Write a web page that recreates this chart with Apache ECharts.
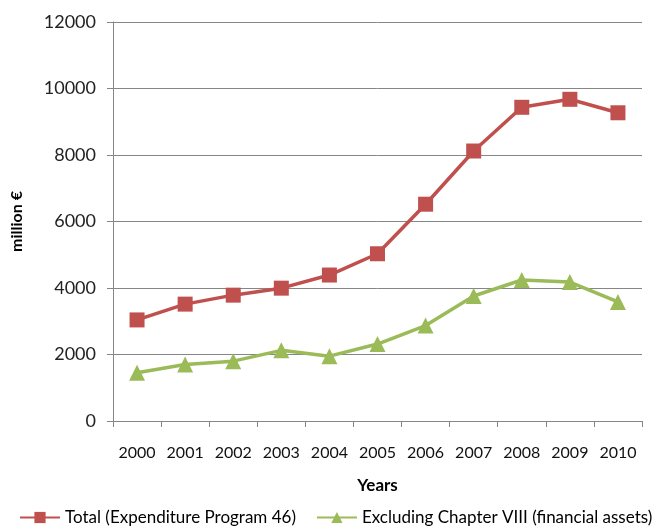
<!DOCTYPE html>
<html><head><meta charset="utf-8">
<script src="https://cdn.jsdelivr.net/npm/echarts@6/dist/echarts.min.js"></script>
<style>html,body{margin:0;padding:0;background:#fff}#c{width:669px;height:531px}</style>
</head><body><div id="c"></div>
<script>
var years = ['2000','2001','2002','2003','2004','2005','2006','2007','2008','2009','2010'];
var totalValues = [3040, 3515, 3785, 3995, 4390, 5030, 6520, 8120, 9435, 9675, 9270];
var exclValues = [1450, 1700, 1800, 2125, 1950, 2315, 2870, 3760, 4240, 4180, 3580];
var seriesNames = ['Total (Expenditure Program 46)', 'Excluding Chapter VIII (financial assets)'];

var font = 'Lato, "Open Sans", sans-serif';
var chart = echarts.init(document.getElementById('c'));
chart.setOption({
  animation: false,
  textStyle: {fontFamily: font},
  grid: {left: 113, right: 27, top: 22, bottom: 110, containLabel: false, outerBoundsMode: 'none'},
  legend: {
    bottom: 0, left: 14, itemWidth: 40, itemHeight: 14, itemGap: 20,
    textStyle: {fontSize: 17, color: '#000', fontFamily: font},
    data: seriesNames
  },
  xAxis: {
    type: 'category', data: years, boundaryGap: true,
    name: 'Years', nameLocation: 'middle', nameGap: 56,
    nameTextStyle: {fontSize: 17, fontWeight: 'bold', color: '#000'},
    axisLine: {lineStyle: {color: '#868686', width: 1}},
    axisTick: {show: true, length: 6, lineStyle: {color: '#868686'}},
    axisLabel: {fontSize: 16, color: '#111', margin: 24, interval: 0, hideOverlap: false}
  },
  yAxis: {
    type: 'value', min: 0, max: 12000, interval: 2000,
    name: 'million €', nameLocation: 'middle', nameGap: 88,
    nameTextStyle: {fontSize: 16, fontWeight: 'bold', color: '#000'},
    axisLine: {show: true, lineStyle: {color: '#868686', width: 1}},
    axisTick: {show: true, length: 6, lineStyle: {color: '#868686'}},
    splitLine: {lineStyle: {color: '#868686', width: 1}},
    axisLabel: {fontSize: 18, color: '#222', margin: 17,
                formatter: function (v) { return String(v); }}
  },
  series: [
    {name: seriesNames[0], type: 'line', data: totalValues,
     symbol: 'rect', symbolSize: 15,
     lineStyle: {color: '#C0504D', width: 3.5},
     itemStyle: {color: '#C0504D'}},
    {name: seriesNames[1], type: 'line', data: exclValues,
     symbol: 'triangle', symbolSize: 16,
     lineStyle: {color: '#9BBB59', width: 3.5},
     itemStyle: {color: '#9BBB59'}}
  ]
});
</script></body></html>
